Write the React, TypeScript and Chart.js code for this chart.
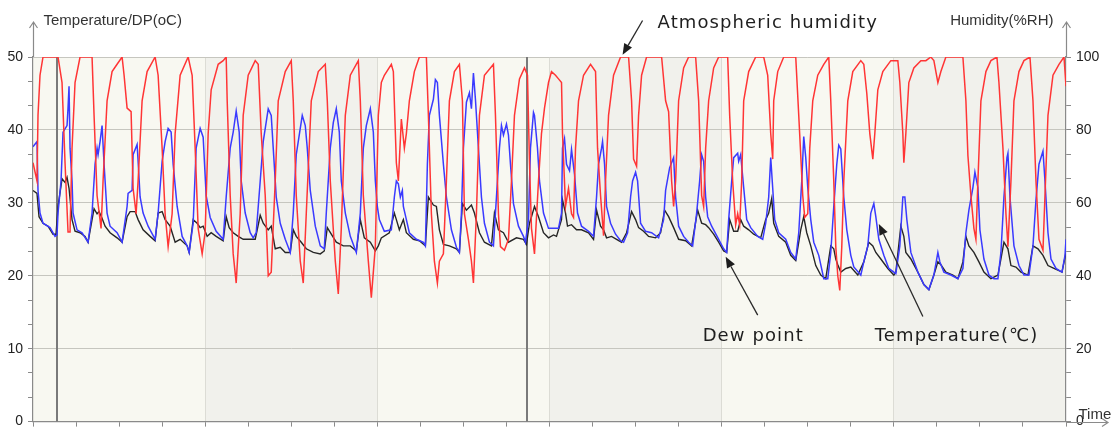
import React, { useEffect, useRef } from "react";
import { Chart, registerables } from "chart.js";

Chart.register(...registerables);

// time axis: sample index (arbitrary logger steps), 24 tick intervals
const TIME_MAX = 1032;
const TICK_STEP = 43;
const BAND_TICKS = 4;

// [time, %RH]
const humidity: [number, number][] = [
  [0,71],[4,66],[5,84],[7,95],[10,100],[25,100],[29,93],[32,71],[35,52],[37,52],[39,75],[42,93],[47,100],[59,100],[61,84],[64,62],[68,53],[70,66],[74,88],[79,96],[84,98],[89,100],[91,95],[94,86],[98,85],[100,64],[103,57],[105,66],[109,88],[114,96],[122,100],[125,95],[129,75],[132,57],[135,48],[139,57],[142,79],[147,95],[155,100],[159,95],[162,75],[165,53],[169,46],[172,52],[175,79],[178,91],[185,98],[190,99],[193,100],[194,88],[197,62],[200,46],[203,38],[207,57],[210,84],[215,95],[222,99],[225,98],[228,79],[232,62],[235,40],[238,41],[242,66],[245,88],[252,96],[258,99],[260,88],[263,62],[267,44],[270,38],[273,57],[278,88],[285,96],[292,98],[294,88],[297,66],[302,44],[305,35],[308,53],[312,84],[317,95],[325,99],[327,88],[330,62],[335,44],[338,34],[342,48],[345,84],[348,93],[351,95],[358,98],[360,96],[363,71],[365,66],[368,83],[371,75],[373,79],[376,88],[381,96],[386,100],[393,100],[395,84],[398,57],[401,44],[404,38],[406,44],[410,46],[413,66],[416,88],[421,96],[426,98],[429,88],[431,57],[435,50],[438,44],[440,38],[443,57],[446,84],[451,95],[460,98],[462,84],[465,57],[467,48],[471,47],[475,50],[478,66],[481,84],[486,94],[491,97],[494,95],[496,71],[498,53],[501,46],[505,66],[508,79],[511,86],[515,93],[518,96],[522,95],[525,94],[528,93],[529,79],[532,59],[535,64],[538,57],[540,56],[542,75],[545,88],[550,95],[557,98],[562,96],[564,75],[567,62],[570,51],[572,66],[575,84],[580,95],[587,100],[595,100],[598,88],[600,72],[603,70],[605,84],[608,95],[613,100],[628,100],[632,88],[635,85],[638,66],[640,59],[642,66],[645,88],[650,97],[655,100],[662,100],[665,88],[668,62],[670,59],[672,75],[675,88],[680,97],[685,100],[694,100],[696,84],[699,66],[702,54],[704,57],[706,54],[708,66],[710,88],[715,96],[722,100],[730,100],[734,95],[737,79],[739,72],[740,88],[744,96],[750,100],[762,100],[765,84],[769,62],[771,56],[774,57],[776,75],[779,88],[784,95],[790,98],[795,100],[797,88],[800,66],[802,48],[804,40],[806,36],[808,48],[810,66],[814,88],[819,96],[827,99],[830,98],[833,90],[836,79],[839,72],[841,79],[844,91],[849,96],[857,99],[864,99],[866,93],[869,79],[870,71],[872,79],[875,93],[880,97],[887,99],[892,99],[897,100],[900,99],[904,93],[907,96],[912,100],[929,100],[932,88],[934,73],[937,62],[940,53],[942,50],[944,66],[947,88],[952,96],[957,99],[963,100],[965,93],[969,75],[972,57],[974,48],[977,66],[980,88],[985,96],[990,99],[996,100],[999,88],[1002,66],[1005,50],[1009,47],[1011,62],[1014,84],[1019,95],[1025,98],[1030,100],[1032,92]
];

// [time, °C]
const temperature: [number, number][] = [
  [0,37.7],[4,38.4],[5,31.7],[7,28.6],[10,27.2],[17,26.6],[22,25.4],[24,25.6],[25,28.6],[28,33],[30,39.7],[34,40.6],[35,43],[36,46],[37,37.5],[39,33],[40,28.6],[44,26.3],[49,25.9],[55,24.6],[59,28.6],[62,35.3],[64,37.5],[65,36.6],[67,38.4],[69,40.6],[71,35.3],[74,28.6],[77,26.8],[84,25.9],[89,24.6],[94,29.5],[95,31.3],[99,31.7],[100,36.6],[104,38],[105,35.7],[107,30.8],[110,28.6],[115,26.8],[122,25],[125,28.6],[129,35.7],[132,38.4],[135,40.2],[138,39.7],[140,35.3],[144,29.5],[149,25.4],[154,24.1],[156,23.2],[160,27.2],[163,37.5],[167,40.2],[170,39],[173,31],[177,28],[183,26.1],[190,25],[193,30.8],[197,37.5],[200,39.7],[203,42.6],[206,39.7],[208,33],[212,28.6],[217,25.9],[220,25.2],[223,25.9],[227,33],[230,38.4],[235,42.9],[238,42],[240,37.5],[243,30.8],[247,27.2],[252,25],[257,23.2],[260,28.6],[263,36.6],[267,40.2],[269,42],[272,40.6],[274,37.5],[277,31.7],[282,26.8],[287,24.1],[291,23.7],[293,28.6],[297,37.5],[300,41],[303,42.9],[306,39.7],[308,33],[312,28.6],[317,25.4],[323,23.2],[327,28.6],[330,37.5],[333,40.6],[337,42.9],[340,39.7],[342,33],[344,29.5],[346,27.7],[351,26.1],[358,26.3],[361,30.8],[363,33],[365,32.6],[367,30.8],[369,31.7],[370,29.5],[373,27.7],[376,25.9],[383,25],[390,24.6],[392,24.1],[394,35.3],[396,42],[400,44.2],[402,46.9],[404,46.5],[406,42],[410,35.3],[413,30.8],[418,26.3],[423,23.9],[426,23.2],[428,28.6],[430,37.5],[433,43.8],[436,45.1],[438,42.9],[440,47.8],[442,44.2],[445,37.5],[448,30.8],[451,27.2],[456,24.6],[460,24.1],[463,30.8],[466,37.5],[468,40.6],[470,39.3],[473,40.8],[475,39.3],[477,35.3],[480,29.9],[485,26.8],[490,25.4],[492,24.6],[495,27.7],[497,37.5],[500,42.4],[501,42],[504,37.5],[506,33],[510,28.6],[515,26.5],[525,26.5],[528,28.6],[529,37.5],[531,38.8],[533,35.3],[536,34.4],[538,37.3],[541,33.9],[544,28.6],[548,26.8],[555,26.1],[560,25.4],[563,30.8],[565,35.3],[568,37.5],[569,38.4],[571,35.3],[573,29.5],[577,27.2],[582,25.7],[587,24.8],[590,24.6],[594,25.9],[597,30.8],[599,33],[602,34.2],[604,33],[607,27.2],[612,26.1],[618,25.9],[625,25.2],[630,27.7],[632,31.7],[636,34.8],[640,36.2],[642,30.8],[645,26.8],[650,25.4],[655,24.6],[659,24.1],[663,28.6],[666,33],[668,36.6],[670,35.7],[672,30.8],[674,28.1],[678,26.8],[685,25],[690,23.7],[693,23.2],[695,27.7],[698,33],[700,36.2],[704,36.8],[705,35.7],[707,36.6],[710,32.1],[713,27.7],[717,26.6],[724,25.4],[729,25],[732,27.2],[735,30.8],[737,36.2],[739,32],[741,27.7],[745,25.9],[752,25],[757,23.2],[762,22.3],[765,25.9],[768,33],[770,39.1],[772,36.2],[774,32.1],[777,27.7],[780,24.6],[785,22.8],[790,19.6],[794,19.6],[797,23.2],[800,29.5],[803,35.3],[805,37.9],[807,37.4],[810,30.8],[813,26.3],[817,22.8],[820,21.2],[827,20.1],[830,21.9],[834,24.1],[837,28.6],[840,29.9],[842,28.1],[845,25],[850,22.8],[855,21],[862,20.3],[866,24.1],[869,30.8],[871,30.8],[873,27.7],[877,23.2],[884,20.5],[890,18.8],[895,18.1],[900,20.1],[904,23.2],[906,21.9],[910,20.5],[917,20.1],[924,19.6],[929,21],[932,25.9],[935,29],[939,32.1],[941,34.2],[944,32.1],[946,26.3],[950,22.3],[955,20.1],[960,19.6],[964,19.6],[967,23.2],[970,30.8],[973,36.2],[974,36.8],[976,30.8],[980,24.1],[985,21.4],[990,20.1],[995,20.1],[999,24.1],[1002,30.4],[1005,35.3],[1009,37.1],[1011,33],[1014,25.9],[1017,22.3],[1022,21],[1028,20.5],[1031,22.8],[1032,25]
];

// [time, °C]
const dewPoint: [number, number][] = [
  [0,31.7],[4,31.3],[6,28.1],[10,27.2],[15,26.8],[20,25.7],[23,25.7],[25,29.5],[29,33.3],[32,32.8],[34,33.5],[36,32],[39,27.7],[42,26.1],[47,25.9],[52,25.4],[55,24.6],[59,27.7],[61,29.2],[64,28.5],[66,28.8],[69,27.9],[72,26.8],[77,25.9],[84,25.2],[89,24.6],[94,28.1],[97,28.8],[102,28.8],[105,27.7],[110,26.3],[117,25.4],[122,24.8],[125,28.6],[129,28.8],[132,27.7],[137,26.8],[142,24.6],[147,25],[154,24.1],[156,23.2],[160,27.7],[164,27.2],[167,26.6],[170,26.8],[174,25.4],[178,25.9],[183,25.4],[190,24.8],[193,28.1],[196,26.6],[200,25.9],[205,25.4],[210,25],[217,25],[222,25],[227,28.3],[230,27.2],[235,26.3],[238,26.8],[242,23.7],[247,23.9],[252,23.2],[257,23.2],[260,26.3],[263,25.4],[268,24.6],[273,23.7],[280,23.2],[287,23],[291,23.4],[294,26.6],[298,25.7],[303,24.6],[310,24.1],[317,24.1],[323,23.4],[327,27.7],[331,25.2],[337,24.6],[342,23.4],[345,24.1],[348,25.2],[356,25.9],[361,28.6],[363,27.7],[366,26.3],[370,27.7],[373,25.9],[380,25],[386,24.8],[392,24.1],[395,30.8],[400,29.7],[403,29.5],[406,26.3],[410,24.3],[416,24.1],[423,23.7],[426,23.2],[429,29.9],[433,29],[438,29.7],[441,28.6],[446,25.9],[451,24.6],[458,24.1],[461,28.6],[465,26.3],[470,25.9],[475,24.6],[483,25.2],[490,25],[493,24.3],[496,27.2],[498,28.1],[501,29.5],[505,28.1],[510,25.9],[515,25.2],[520,25.6],[523,25.4],[528,27.7],[529,30.4],[532,28.6],[534,26.8],[538,27],[543,26.3],[548,26.3],[555,25.9],[560,25],[563,29],[567,26.8],[570,26.3],[573,25.2],[578,25.4],[583,25],[588,24.6],[593,25.9],[598,28.8],[602,27.7],[605,26.6],[610,26.1],[615,25.4],[622,25.2],[627,25.9],[631,29],[635,28.1],[640,26.6],[645,25],[652,24.8],[658,24.1],[664,29],[668,27.2],[672,27],[675,26.6],[680,25.7],[685,24.6],[690,23.4],[693,23.2],[696,27.7],[700,26.1],[704,26.1],[707,27.7],[710,26.8],[715,26.3],[720,25.7],[727,25.2],[732,27.7],[735,28.6],[738,30.6],[740,27.2],[745,25.4],[752,24.6],[757,22.8],[762,22.1],[767,26.3],[770,28.1],[773,25.9],[777,24.1],[782,21.4],[787,20.1],[792,19.6],[797,24.1],[800,23.7],[802,22.3],[804,21.5],[807,20.5],[812,21],[817,21.2],[824,20.1],[830,21.9],[835,24.6],[839,24.1],[842,23.2],[847,22.3],[854,21],[860,20.1],[862,20.5],[867,26.8],[870,25.4],[872,23.2],[877,22.3],[884,20.5],[890,18.8],[895,18.1],[900,20.1],[904,21.9],[907,21.5],[912,20.5],[919,20.1],[924,19.6],[929,21.9],[932,25.4],[935,24.1],[940,23.2],[945,21.9],[950,20.5],[957,19.6],[964,20.1],[967,22.3],[970,24.6],[974,23.7],[977,21.4],[982,21.2],[987,20.5],[994,20.1],[999,24.1],[1004,23.7],[1009,22.8],[1014,21.4],[1020,21],[1028,20.5],[1032,23.2]
];

// event marker times (vertical lines)
const markerTimes = [24, 494];

const axisTitles = { left: "Temperature/DP(oC)", right: "Humidity(%RH)", time: "Time" };

// callouts in data units: [time, °C]
const callouts = [
  { label: "Atmospheric humidity", textAt: [624, 54.0], from: [609, 55.0], to: [589, 50.3] },
  { label: "Dew point", textAt: [669, 11.0], from: [724, 14.6], to: [692, 22.6] },
  { label: "Temperature(\u2103)", textAt: [841, 11.0], from: [889, 14.4], to: [845, 27.1] },
];

const AXIS_COLOR = "#8a8a8a";
const TICK_FONT = "'Liberation Sans', Arial, sans-serif";

function toPoints(arr: [number, number][]) {
  return arr.map(([x, y]) => ({ x, y }));
}

function isMultiple(v: number, m: number) {
  return Math.abs(v / m - Math.round(v / m)) < 0.001;
}

function arrow(ctx: CanvasRenderingContext2D, x0: number, y0: number, x1: number, y1: number) {
  const ang = Math.atan2(y1 - y0, x1 - x0);
  const hl = 11, hw = 4.5;
  const bx = x1 - Math.cos(ang) * hl, by = y1 - Math.sin(ang) * hl;
  ctx.beginPath();
  ctx.moveTo(x0, y0);
  ctx.lineTo(bx, by);
  ctx.stroke();
  ctx.beginPath();
  ctx.moveTo(x1, y1);
  ctx.lineTo(bx + Math.sin(ang) * hw, by - Math.cos(ang) * hw);
  ctx.lineTo(bx - Math.sin(ang) * hw, by + Math.cos(ang) * hw);
  ctx.closePath();
  ctx.fill();
}

const decor = {
  id: "decor",
  beforeDraw(chart: any) {
    const { ctx, chartArea: a, scales } = chart;
    const x = scales.x;
    ctx.save();
    ctx.fillStyle = "#ffffff";
    ctx.fillRect(0, 0, chart.width, chart.height);
    const band = TICK_STEP * BAND_TICKS;
    for (let i = 0, v = 0; v < TIME_MAX; i++, v += band) {
      const x0 = x.getPixelForValue(v);
      const x1 = x.getPixelForValue(Math.min(v + band, TIME_MAX));
      ctx.fillStyle = i % 2 === 0 ? "#f8f8f1" : "#f1f1ec";
      ctx.fillRect(x0, a.top, x1 - x0, a.bottom - a.top);
    }
    ctx.restore();
  },
  beforeDatasetsDraw(chart: any) {
    const { ctx, chartArea: a, scales } = chart;
    ctx.save();
    ctx.strokeStyle = "#7a7a7a";
    ctx.lineWidth = 2;
    for (const t of markerTimes) {
      const px = Math.round(scales.x.getPixelForValue(t));
      ctx.beginPath();
      ctx.moveTo(px, a.top);
      ctx.lineTo(px, a.bottom);
      ctx.stroke();
    }
    ctx.restore();
  },
  afterDraw(chart: any) {
    const { ctx, chartArea: a, scales } = chart;
    const xs = scales.x, ys = scales.y;
    const L = Math.round(a.left) + 0.5, R = Math.round(a.right) + 0.5, B = Math.round(a.bottom) + 0.5;
    const topY = 22;
    const endX = 1108;
    ctx.save();
    ctx.strokeStyle = AXIS_COLOR;
    ctx.lineWidth = 1.2;
    // axis extensions with open arrowheads
    ctx.beginPath();
    ctx.moveTo(L, a.top); ctx.lineTo(L, topY);
    ctx.moveTo(L - 4, topY + 6); ctx.lineTo(L, topY); ctx.lineTo(L + 4, topY + 6);
    ctx.moveTo(R, a.top); ctx.lineTo(R, topY);
    ctx.moveTo(R - 4, topY + 6); ctx.lineTo(R, topY); ctx.lineTo(R + 4, topY + 6);
    ctx.moveTo(R, B); ctx.lineTo(endX, B);
    ctx.moveTo(endX - 6, B - 4); ctx.lineTo(endX, B); ctx.lineTo(endX - 6, B + 4);
    ctx.stroke();

    // axis titles
    ctx.fillStyle = "#333333";
    ctx.font = `15px ${TICK_FONT}`;
    ctx.textBaseline = "alphabetic";
    ctx.textAlign = "left";
    ctx.fillText(axisTitles.left, L + 10, 25);
    ctx.textAlign = "right";
    ctx.fillText(axisTitles.right, R - 13, 25);
    ctx.textAlign = "left";
    ctx.fillText(axisTitles.time, R + 12, 419);

    // callouts
    ctx.fillStyle = "#1e1e1e";
    ctx.strokeStyle = "#2a2a2a";
    ctx.lineWidth = 1.3;
    for (const c of callouts) {
      arrow(ctx,
        xs.getPixelForValue(c.from[0]), ys.getPixelForValue(c.from[1]),
        xs.getPixelForValue(c.to[0]), ys.getPixelForValue(c.to[1]));
    }
    ctx.font = "18px 'DejaVu Sans', 'Noto Sans CJK KR', sans-serif";
    (ctx as any).letterSpacing = "1.1px";
    ctx.textAlign = "left";
    for (const c of callouts) {
      ctx.fillText(c.label, xs.getPixelForValue(c.textAt[0]), ys.getPixelForValue(c.textAt[1]));
    }
    (ctx as any).letterSpacing = "0px";
    ctx.restore();
  },
};

export default function App() {
  const ref = useRef<HTMLCanvasElement | null>(null);
  useEffect(() => {
    if (!ref.current) return;
    const chart = new Chart(ref.current, {
      type: "line",
      data: {
        datasets: [
          { label: "Atmospheric humidity", data: toPoints(humidity), yAxisID: "y1", borderColor: "#ff3535", borderWidth: 1.5, pointRadius: 0, tension: 0, order: 0 },
          { label: "Temperature", data: toPoints(temperature), yAxisID: "y", borderColor: "#3a3aff", borderWidth: 1.5, pointRadius: 0, tension: 0, order: 1 },
          { label: "Dew point", data: toPoints(dewPoint), yAxisID: "y", borderColor: "#262626", borderWidth: 1.4, pointRadius: 0, tension: 0, order: 2 },
        ],
      },
      options: {
        animation: false,
        responsive: false,
        events: [],
        layout: { padding: { top: 57, left: 0, right: 0, bottom: 0 } },
        plugins: { legend: { display: false }, tooltip: { enabled: false } },
        scales: {
          x: {
            type: "linear",
            min: 0,
            max: TIME_MAX,
            ticks: { stepSize: TICK_STEP, display: false, autoSkip: false },
            grid: {
              color: (c: any) => {
                const v = c.tick ? c.tick.value : 0;
                return v > 0 && v < TIME_MAX && isMultiple(v, TICK_STEP * BAND_TICKS) ? "#dcdcd5" : "rgba(0,0,0,0)";
              },
              tickColor: AXIS_COLOR,
              tickLength: 5,
            },
            border: { color: AXIS_COLOR, width: 1.2 },
            afterFit: (s: any) => { s.height = 6; },
          },
          y: {
            position: "left",
            min: 0,
            max: 50,
            ticks: {
              stepSize: 10 / 3,
              autoSkip: false,
              callback: (v: any) => (isMultiple(Number(v), 10) ? String(Math.round(Number(v))) : ""),
              font: { family: TICK_FONT, size: 14 },
              color: "#222222",
              padding: 5,
            },
            grid: {
              color: (c: any) => (c.tick && isMultiple(c.tick.value, 10) ? "#c6c6bf" : "rgba(0,0,0,0)"),
              tickColor: AXIS_COLOR,
              tickLength: 5,
            },
            border: { color: AXIS_COLOR, width: 1.2 },
            afterFit: (s: any) => { s.width = 33; },
          },
          y1: {
            position: "right",
            min: 0,
            max: 100,
            ticks: {
              stepSize: 20 / 3,
              autoSkip: false,
              callback: (v: any) => (isMultiple(Number(v), 20) ? String(Math.round(Number(v))) : ""),
              font: { family: TICK_FONT, size: 14 },
              color: "#222222",
              padding: 5,
            },
            grid: { drawOnChartArea: false, tickColor: AXIS_COLOR, tickLength: 5 },
            border: { color: AXIS_COLOR, width: 1.2 },
            afterFit: (s: any) => { s.width = 48; },
          },
        },
      },
      plugins: [decor],
    } as any);
    return () => chart.destroy();
  }, []);
  return (
    <div style={{ position: "fixed", left: 0, top: 0, width: 1114, height: 435, background: "#fff" }}>
      <canvas ref={ref} width={1114} height={435} style={{ display: "block", width: 1114, height: 435 }} />
    </div>
  );
}
